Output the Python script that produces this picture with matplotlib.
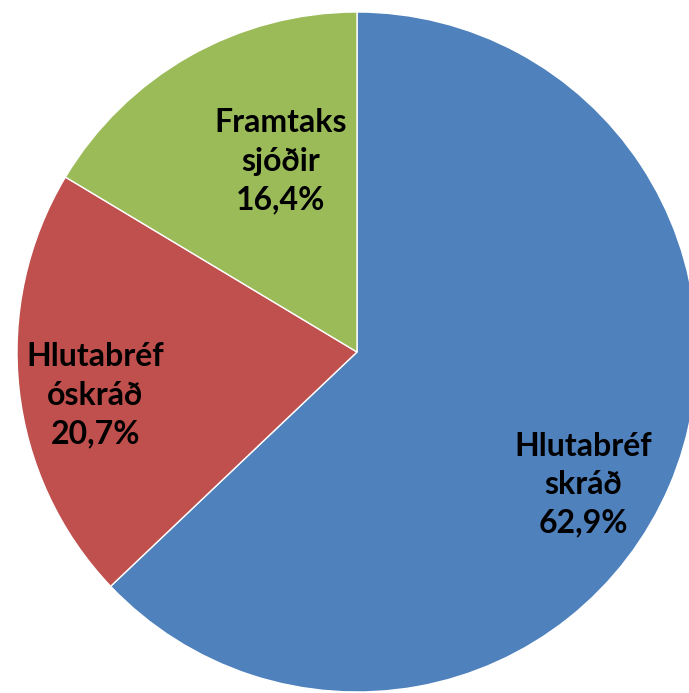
import matplotlib.pyplot as plt

# hlutfall eignaflokka
flokkar = ['Hlutabréf\nskráð', 'Hlutabréf\nóskráð', 'Framtaks\nsjóðir']
hlutfall = [62.9, 20.7, 16.4]
litir = ['#4F81BD', '#C0504D', '#9BBB59']

# stadsetning merkja (x, y) i hnitum kokunnar
merki_pos = [(0.665, -0.39), (-0.77, -0.127), (-0.226, 0.56)]

fig = plt.figure(figsize=(6.89, 6.93), dpi=100)
ax = fig.add_axes([0, 0, 1, 1])

ax.pie(hlutfall, colors=litir, startangle=90, counterclock=False,
       radius=1.0, wedgeprops={'edgecolor': 'white', 'linewidth': 1.0})

for flokkur, gildi, (x, y) in zip(flokkar, hlutfall, merki_pos):
    texti = f"{flokkur}\n{gildi:.1f}%".replace('.', ',')
    ax.text(x, y, texti, ha='center', va='center', fontsize=23,
            fontweight='bold', family='Lato', linespacing=1.4, color='black')

# midja i (357, 352) px, radius 340 px
s = 340.0
ax.set_xlim(-357 / s, (689 - 357) / s)
ax.set_ylim(-(693 - 352) / s, 352 / s)
ax.set_aspect('auto')
ax.axis('off')

fig.savefig('out.png', dpi=100)
